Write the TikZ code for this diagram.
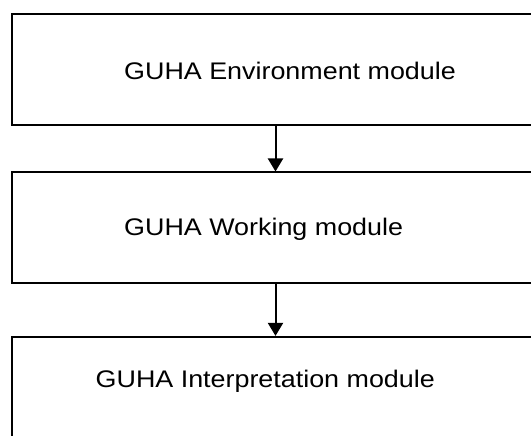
\documentclass[tikz,border=0pt]{standalone}
\usepackage{fontspec}
\newfontfamily\guhafont{Liberation Sans}
\usetikzlibrary{arrows.meta}
\newcommand{\widetext}[1]{\scalebox{1.12}[1]{#1}}
\begin{document}
\begin{tikzpicture}[x=1pt,y=-1pt,
  modbox/.style={draw=black,line width=2pt,rectangle,inner sep=0pt,anchor=north west,fill=none},
  modtext/.style={anchor=base west,inner sep=0pt,font=\guhafont\fontsize{24}{28}\selectfont},
  flow/.style={line width=2pt,-{Triangle[width=15pt,length=13pt]}}]
\useasboundingbox (0,0) rectangle (531,436);
\clip (0,0) rectangle (531,436);
\fill[white] (0,0) rectangle (531,436);
\node[modbox,minimum width=600pt,minimum height=111pt] (b1) at (11,13.5) {};
\node[modbox,minimum width=600pt,minimum height=110pt] (b2) at (11,171.5) {};
\node[modbox,minimum width=600pt,minimum height=150pt] (b3) at (11,335.9) {};
\node[modtext] (t1) at (124,80) {\widetext{GUHA Environment module}};
\node[modtext] (t2) at (124,235.8) {\widetext{GUHA Working module}};
\node[modtext] (t3) at (95.5,387.7) {\widetext{GUHA Interpretation module}};
\coordinate (ax) at (275.5,0);
\draw[flow] (b1.south -| ax) -- (b2.north -| ax);
\draw[flow] (b2.south -| ax) -- (b3.north -| ax);
\end{tikzpicture}
\end{document}
